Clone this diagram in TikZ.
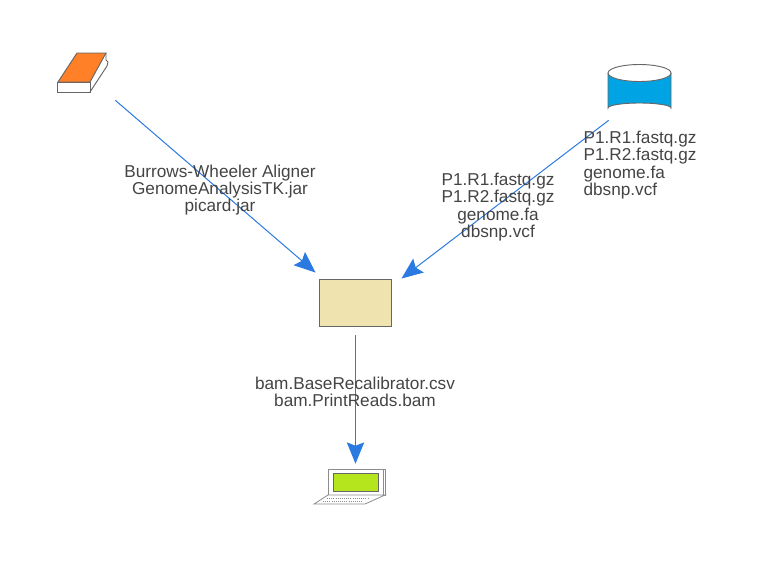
\documentclass[tikz,border=0pt]{standalone}
\usepackage{fontspec}
\setmainfont{Liberation Sans}
\usepackage{xcolor}
\usetikzlibrary{arrows.meta, positioning}
\definecolor{flowblue}{RGB}{42, 122, 226}
\definecolor{labelgray}{RGB}{68, 68, 68}
\definecolor{bookorange}{RGB}{255, 128, 38}
\definecolor{dbblue}{RGB}{0, 164, 228}
\definecolor{hubsand}{RGB}{239, 228, 176}
\definecolor{screengreen}{RGB}{181, 230, 29}
\tikzset{
  flow/.style={draw=flowblue, line width=0.75pt, -{Stealth[length=16pt, width=13pt, inset=2.5pt]}},
  flowlabel/.style={text=labelgray, font=\fontsize{12.9}{13}\selectfont, inner sep=0pt, align=center},
  outline/.style={draw=black!60, line width=0.7pt},
  thinline/.style={draw=black!45, line width=0.6pt}
}
\begin{document}
\begin{tikzpicture}[x=0.75pt, y=-0.75pt]
  \useasboundingbox (0,0) rectangle (762,582);

  % Icons
  \node[inner sep=0pt, minimum width=43.5pt, minimum height=36pt] (book) at (86,76) {};
  \fill[white] (57,82) -- (77,53) -- (106,53) -- (108,63) -- (90,92) -- (57,92) -- cycle;
  \draw[outline] (57,82) rectangle (90,92);
  \draw[outline] (90,92) -- (107,66) -- (108,62) -- (106,60) -- (106,53);
  \draw[outline, fill=bookorange] (58,82) -- (77,53) -- (106,53) -- (90,82) -- cycle;

  \node[inner sep=0pt, minimum width=47.25pt, minimum height=36pt] (db) at (639.5,89) {};
  \fill[dbblue] (608,73) -- (608,108) arc[start angle=180, end angle=360, x radius=31.5, y radius=5] -- (671,73) -- cycle;
  \draw[outline, fill=white] (639.5,73) ellipse[x radius=31.5, y radius=8.5];
  \draw[outline] (608,73) -- (608,108) arc[start angle=180, end angle=360, x radius=31.5, y radius=5] -- (671,73);

  \node[outline, fill=hubsand, inner sep=0pt, minimum width=54pt, minimum height=35.25pt] (hub) at (355,302.5) {};

  \node[inner sep=0pt, minimum width=53.25pt, minimum height=30pt] (laptop) at (355.5,484) {};
  \draw[thinline, fill=white] (328,469) rectangle (385,495);
  \draw[thinline] (383,469) -- (383,495);
  \draw[outline, fill=screengreen] (333,473) rectangle (378,491);
  \draw[thinline, fill=white] (328,495) -- (314,504) -- (365,504) -- (385,495) -- cycle;
  \draw[thinline, densely dotted] (327,498) -- (368,498);
  \draw[thinline, densely dotted] (323,501) -- (362,501);

  % Connectors
  \draw[flow] (book.south east) -- ([shift={(-3,-6)}]hub.north west);
  \draw[flow] ([shift={(1,7)}]db.south west) -- ([shift={(10,0)}]hub.north east);
  \draw[flow] ([shift={(0.5,9)}]hub.south) -- (laptop.north);

  % Labels
  \node[flowlabel] (toollabel) at (220,190) {Burrows-Wheeler Aligner\\GenomeAnalysisTK.jar\\picard.jar};
  \node[flowlabel] (inputlabel) at (498,207) {P1.R1.fastq.gz\\P1.R2.fastq.gz\\genome.fa\\dbsnp.vcf};
  \node[flowlabel, align=left] (dblabel) at (640,165) {P1.R1.fastq.gz\\P1.R2.fastq.gz\\genome.fa\\dbsnp.vcf};
  \node[flowlabel] (outlabel) at (355,392) {bam.BaseRecalibrator.csv\\bam.PrintReads.bam};
\end{tikzpicture}
\end{document}
